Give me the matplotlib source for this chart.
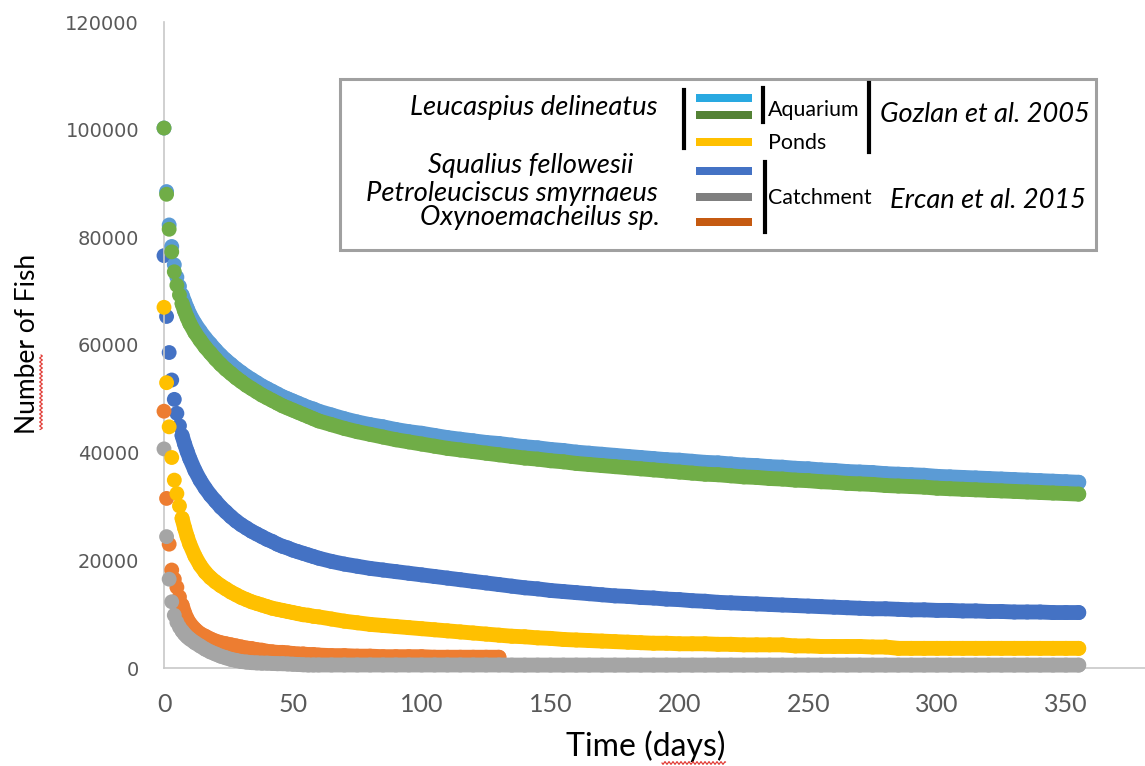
import numpy as np
import matplotlib
matplotlib.use("Agg")
import matplotlib.pyplot as plt
from matplotlib.patches import Rectangle
from matplotlib.lines import Line2D

W, H = 1145, 766

# sampling days (daily at first, then every 2 and every 5 days)
days = list(range(0, 11)) + list(range(12, 61, 2)) + list(range(65, 356, 5))

# Leucaspius delineatus, aquarium (light blue)
aquarium_a = [100300, 88500, 82300, 78300, 74900, 72600, 70900, 69300, 68000, 66800, 65700,
              64000, 62600, 61300, 60200, 59100, 58100, 57200, 56400, 55600, 54900, 54200, 53600, 53000,
              52400, 51900, 51400, 50900, 50400, 50000, 49600, 49200, 48800, 48400, 48100, 47700,
              47000, 46300, 45700, 45200, 44800, 44300, 43900, 43600, 43200, 42800, 42500, 42200,
              41900, 41700, 41400, 41100, 40900, 40600, 40400, 40100, 39900, 39700, 39500, 39300,
              39100, 38900, 38700, 38600, 38400, 38200, 38100, 37900, 37700, 37600, 37400, 37300,
              37100, 37000, 36800, 36700, 36500, 36400, 36300, 36100, 36000, 35900, 35800, 35600,
              35500, 35400, 35300, 35200, 35100, 35000, 34900, 34800, 34700, 34600, 34500]
# Leucaspius delineatus, aquarium (green)
aquarium_b = [100300, 88000, 81500, 77300, 73600, 71100, 69300, 67700, 66300, 65100, 64000,
              62300, 60900, 59600, 58500, 57400, 56400, 55500, 54700, 53900, 53200, 52500, 51900, 51300,
              50700, 50200, 49700, 49200, 48700, 48300, 47900, 47500, 47100, 46700, 46300, 45900,
              45200, 44500, 43900, 43400, 42900, 42400, 42000, 41600, 41200, 40800, 40500, 40200,
              39900, 39600, 39300, 39000, 38800, 38500, 38300, 38000, 37800, 37600, 37400, 37200,
              37000, 36800, 36600, 36400, 36200, 36000, 35900, 35700, 35500, 35400, 35200, 35100,
              34900, 34800, 34600, 34500, 34300, 34200, 34100, 33900, 33800, 33700, 33600, 33400,
              33300, 33200, 33100, 33000, 32900, 32800, 32700, 32600, 32500, 32400, 32300]
# Leucaspius delineatus, ponds (yellow)
ponds = [67000, 53000, 44800, 39100, 34900, 32400, 30100, 27800, 26000, 24400, 23000,
         20800, 19100, 17800, 16800, 16000, 15300, 14700, 14100, 13600, 13100, 12700, 12300, 12000,
         11700, 11400, 11100, 10900, 10700, 10500, 10300, 10100, 9900, 9800, 9600, 9500,
         9100, 8700, 8400, 8100, 7900, 7700, 7500, 7300, 7100, 6900, 6700, 6500,
         6300, 6100, 5900, 5800, 5600, 5500, 5300, 5200, 5100, 5000, 4900, 4800,
         4700, 4600, 4600, 4500, 4500, 4500, 4400, 4400, 4300, 4300, 4300, 4300,
         4100, 4100, 4000, 4000, 4000, 4000, 3900, 3900, 3650, 3650, 3650, 3650,
         3650, 3650, 3650, 3650, 3650, 3650, 3650, 3650, 3650, 3650, 3650]
# Squalius fellowesii (dark blue)
squalius = [76600, 65300, 58600, 53500, 49900, 47300, 45000, 43200, 41600, 40200, 38900,
            36700, 34900, 33400, 32100, 31000, 29900, 29000, 28100, 27300, 26600, 26000, 25400, 24900,
            24400, 23900, 23500, 23000, 22600, 22300, 21900, 21600, 21300, 21000, 20700, 20400,
            19800, 19300, 18900, 18500, 18200, 17900, 17600, 17300, 17000, 16700, 16400, 16100,
            15800, 15500, 15200, 14900, 14700, 14400, 14200, 14000, 13800, 13600, 13400, 13300,
            13100, 13000, 12800, 12700, 12500, 12400, 12200, 12100, 12000, 11900, 11800, 11700,
            11600, 11500, 11400, 11300, 11200, 11100, 11000, 11000, 10900, 10800, 10800, 10700,
            10700, 10600, 10600, 10500, 10500, 10400, 10400, 10400, 10300, 10300, 10300]
# Petroleuciscus smyrnaeus (grey)
petroleuciscus = [40700, 24400, 16500, 12300, 9800, 8500, 7600, 6900, 6300, 5800, 5400,
                  4700, 4100, 3500, 3000, 2600, 2200, 1900, 1600, 1400, 1200, 1100, 1000, 950,
                  900, 900, 850, 800, 800, 750, 700, 650, 600, 560, 560, 560,
                  560, 560, 560, 560, 560, 560, 560, 560, 560, 560, 560, 560,
                  560, 560, 540, 540, 540, 540, 540, 540, 540, 540, 540, 540,
                  540, 540, 540, 540, 540, 540, 540, 540, 540, 540, 540, 540,
                  540, 540, 540, 540, 540, 540, 540, 540, 540, 540, 540, 540,
                  540, 540, 540, 540, 540, 540, 540, 540, 540, 540, 540]
# Oxynoemacheilus sp. (orange), recorded up to day 130
oxynoemacheilus = [47700, 31500, 23000, 18200, 16500, 15000, 13200, 11700, 10200, 9100, 8300,
                   7200, 6400, 5900, 5400, 5000, 4700, 4500, 4300, 4100, 3900, 3700, 3600, 3400,
                   3300, 3100, 3000, 2900, 2900, 2800, 2700, 2600, 2600, 2500, 2500, 2400,
                   2300, 2300, 2200, 2200, 2100, 2100, 2100, 2100, 2000, 2000, 2000, 2000,
                   2000, 2000]

xticks = [0, 50, 100, 150, 200, 250, 300, 350]
yticks = [0, 20000, 40000, 60000, 80000, 100000, 120000]

# draw order bottom -> top
series = [
    (squalius, "#4472C4", 2),
    (oxynoemacheilus, "#ED7D31", 3),
    (petroleuciscus, "#A5A5A5", 4),
    (ponds, "#FFC000", 5),
    (aquarium_a, "#5B9BD5", 6),
    (aquarium_b, "#70AD47", 7),
]

DOT = 10.7  # marker diameter in points


def fx(x):
    return x / W


def fy(y):
    return 1 - y / H


def wavy(fig, x0, x1, y, vertical=False):
    t = np.arange(0, x1 - x0, 0.5)
    w = 1.3 * np.sin(2 * np.pi * t / 4.0)
    if vertical:
        xs, ys = y + w, x0 + t
    else:
        xs, ys = x0 + t, y + w
    fig.add_artist(Line2D(xs / W, 1 - ys / H, color="#E0302A", lw=0.8,
                          transform=fig.transFigure))


fig = plt.figure(figsize=(W / 100, H / 100), dpi=100)
ax = fig.add_axes([164 / W, (H - 668) / H, (W - 164) / W, (668 - 22) / H])

for vals, col, z in series:
    d = days[:len(vals)]
    ax.scatter(d, vals, s=DOT ** 2, color=col, edgecolors="none",
               zorder=z, clip_on=False)
    # the daily markers of the original merge into a solid band after the first week
    ax.plot(d[7:], vals[7:], color=col, lw=DOT, solid_capstyle="round",
            solid_joinstyle="round", zorder=z, clip_on=False)

ax.set_xlim(0, 380.7)
ax.set_ylim(0, 120000)
ax.set_xticks(xticks)
ax.set_yticks(yticks)
ax.set_xticklabels([str(v) for v in xticks], family="Lato", fontsize=18, color="#595959")
ax.set_yticklabels([str(v) for v in yticks], family="DejaVu Sans", fontsize=14, color="#595959")
ax.tick_params(length=0)
ax.tick_params(axis="x", pad=18)
ax.tick_params(axis="y", pad=18)
for s in ["top", "right"]:
    ax.spines[s].set_visible(False)
for s in ["left", "bottom"]:
    ax.spines[s].set_color("#C8C8C8")
    ax.spines[s].set_linewidth(1.2)

ax.set_xlabel("Time (days)", family="Lato", fontsize=23)
ax.xaxis.set_label_coords((646 - 164) / (W - 164), -(746 - 668) / (668 - 22))
ax.xaxis.label.set_va("center")
ax.set_ylabel("Number of Fish", family="Lato", fontsize=19)
ax.yaxis.set_label_coords(-(164 - 28) / (W - 164), (668 - 344) / (668 - 22))
ax.yaxis.label.set_va("center")

# legend box drawn by hand, as in the original figure
fig.add_artist(Rectangle((fx(340), fy(250)), (1096 - 340) / W, (250 - 79) / H,
                         transform=fig.transFigure, facecolor="white",
                         edgecolor="#A0A0A0", lw=2.2, zorder=10))

txt = dict(family="Lato", color="black", zorder=11)
fig.text(fx(658), fy(108), "Leucaspius delineatus", ha="right", va="center",
         style="italic", fontsize=19.7, **txt)
fig.text(fx(633), fy(165), "Squalius fellowesii", ha="right", va="center",
         style="italic", fontsize=19.7, **txt)
fig.text(fx(658), fy(193), "Petroleuciscus smyrnaeus", ha="right", va="center",
         style="italic", fontsize=19.7, **txt)
fig.text(fx(660), fy(218), "Oxynoemacheilus sp.", ha="right", va="center",
         style="italic", fontsize=19.7, **txt)
fig.text(fx(768), fy(110), "Aquarium", ha="left", va="center", fontsize=15.4, **txt)
fig.text(fx(768), fy(143), "Ponds", ha="left", va="center", fontsize=15.4, **txt)
fig.text(fx(768), fy(198), "Catchment", ha="left", va="center", fontsize=15.4, **txt)
fig.text(fx(880), fy(115), "Gozlan et al. 2005", ha="left", va="center",
         style="italic", fontsize=19.6, **txt)
fig.text(fx(890), fy(200), "Ercan et al. 2015", ha="left", va="center",
         style="italic", fontsize=19.6, **txt)

swatches = [("#29A9E1", 98), ("#548235", 115), ("#FFC000", 142),
            ("#4472C4", 171), ("#7F7F7F", 197), ("#C55A11", 222)]
for col, yc in swatches:
    fig.add_artist(Rectangle((fx(696), fy(yc + 4)), 56 / W, 8 / H,
                             transform=fig.transFigure, facecolor=col,
                             edgecolor="none", zorder=11))

bars = [(684, 90, 148), (763, 88, 122), (869, 83, 152), (765, 162, 232)]
for x, y0, y1 in bars:
    fig.add_artist(Line2D([fx(x), fx(x)], [fy(y0), fy(y1)], color="black",
                          lw=3.0, transform=fig.transFigure, zorder=11))

# spell-check squiggles visible in the source image
for x0, x1, y in [(410, 530, 124), (540, 658, 124), (880, 962, 132),
                  (422, 633, 181), (362, 658, 209), (420, 660, 234),
                  (768, 872, 208), (890, 955, 215), (662, 726, 763)]:
    wavy(fig, x0, x1, y)
wavy(fig, 355, 430, 41, vertical=True)

fig.savefig("out.png", dpi=100)
